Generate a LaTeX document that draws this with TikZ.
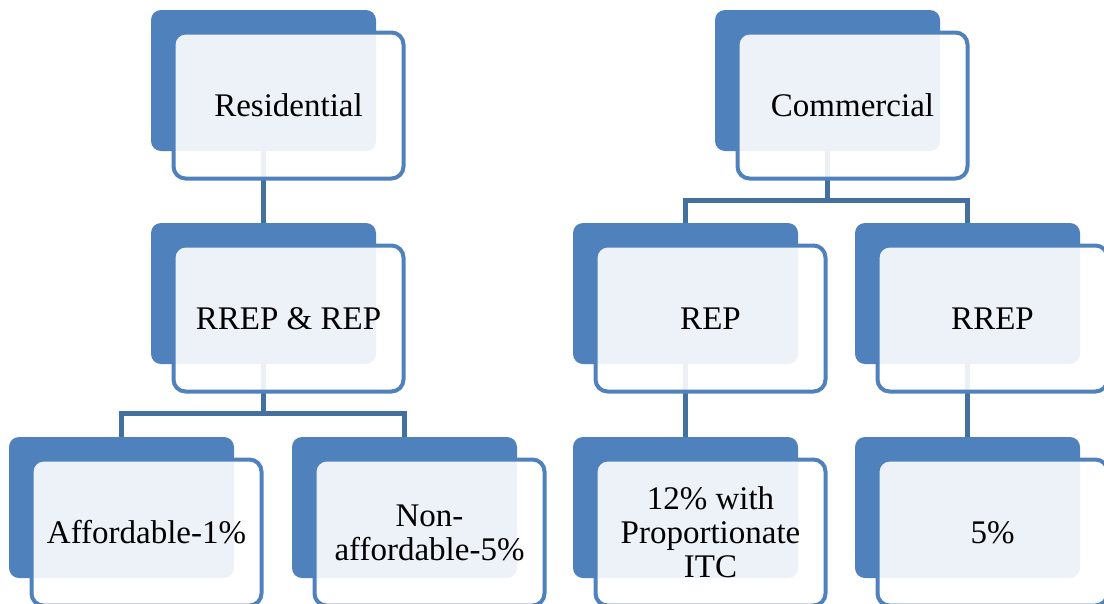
\documentclass[tikz,border=0pt]{standalone}
\usepackage{fontspec}
\setmainfont{Liberation Serif}
\usetikzlibrary{backgrounds}
\definecolor{accent}{HTML}{4F81BD}
\definecolor{linkblue}{HTML}{44709F}

\tikzset{
  backbox/.style={fill=accent, draw=none, rounded corners=10pt,
    minimum width=225pt, minimum height=141pt, inner sep=0pt, outer sep=0pt},
  frontbox/.style={draw=accent, line width=4pt, fill=white, fill opacity=0.9,
    text opacity=1, rounded corners=12pt, minimum width=230pt, minimum height=146pt,
    inner sep=0pt, align=center, font=\fontsize{33}{34}\selectfont},
  link/.style={draw=linkblue, line width=5pt}
}

\begin{document}
\begin{tikzpicture}[x=1pt,y=-1pt]
\useasboundingbox (0,0) rectangle (1104,603);
\clip (0,0) rectangle (1104,603);

% top row
\node[backbox] (resB) at (263.5,80.5) {};
\node[frontbox] (res) at (288.5,105.5) {Residential};
\node[backbox] (comB) at (827.5,80.5) {};
\node[frontbox] (com) at (852.5,105.5) {Commercial};

% middle row
\node[backbox] (repsB) at (263.5,293.5) {};
\node[frontbox] (reps) at (288.5,318.5) {RREP \& REP};
\node[backbox] (repB) at (685.5,293.5) {};
\node[frontbox] (rep) at (710.5,318.5) {REP};
\node[backbox] (rrepB) at (967.5,293.5) {};
\node[frontbox] (rrep) at (992.5,318.5) {RREP};

% bottom row
\node[backbox] (affB) at (121.5,507.5) {};
\node[frontbox] (aff) at (146.5,532.5) {Affordable-1\%};
\node[backbox] (nonB) at (404.5,507.5) {};
\node[frontbox] (non) at (429.5,532.5) {Non-\\affordable-5\%};
\node[backbox] (itcB) at (685.5,507.5) {};
\node[frontbox] (itc) at (710.5,532.5) {12\% with\\Proportionate\\ITC};
\node[backbox] (fiveB) at (967.5,507.5) {};
\node[frontbox] (five) at (992.5,532.5) {5\%};

% connectors, kept beneath the boxes
\begin{scope}[on background layer]
  \draw[link] (resB.south) -- (repsB.north);
  \coordinate (busR) at (263.5,413);
  \draw[link] (repsB.south) -- (busR);
  \draw[link] (affB.north) |- (busR) -| (nonB.north);
  \coordinate (busC) at (827.5,200);
  \draw[link] (comB.south) -- (busC);
  \draw[link] (repB.north) |- (busC) -| (rrepB.north);
  \draw[link] (repB.south) -- (itcB.north);
  \draw[link] (rrepB.south) -- (fiveB.north);
\end{scope}
\end{tikzpicture}
\end{document}
